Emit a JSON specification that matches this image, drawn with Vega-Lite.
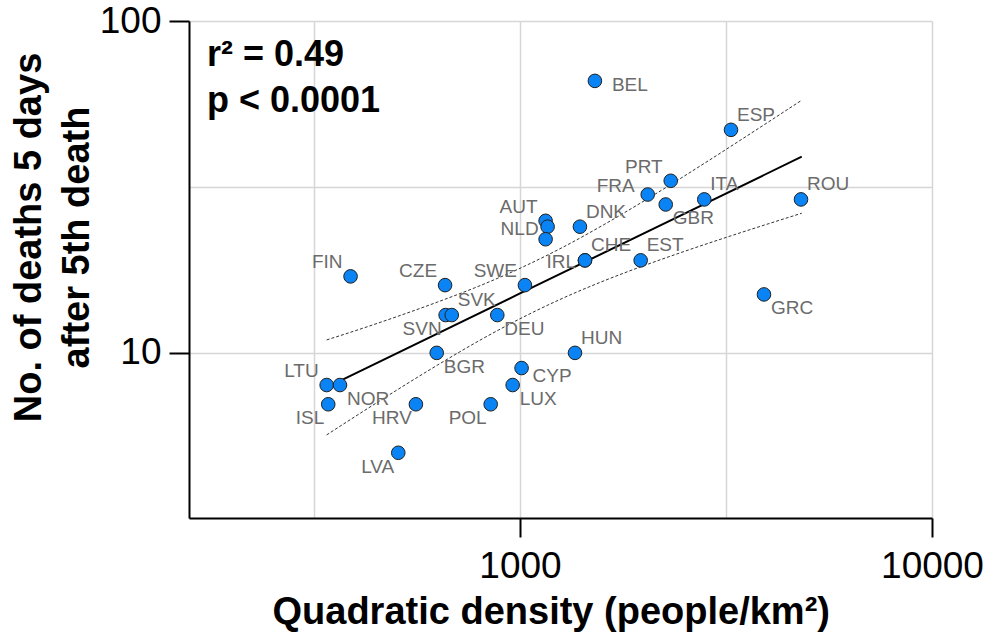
{
  "$schema": "https://vega.github.io/schema/vega-lite/v6.json",
  "width": 743,
  "height": 497,
  "autosize": {"type": "none"},
  "padding": {"left": 189, "top": 21, "right": 60, "bottom": 116},
  "background": "white",
  "config": {"view": {"stroke": null}, "font": "Liberation Sans"},
  "title": {
    "text": ["r² = 0.49", "p < 0.0001"],
    "anchor": "start",
    "frame": "group",
    "orient": "top",
    "offset": 0,
    "font": "Liberation Sans",
    "fontSize": 36,
    "fontWeight": "bold",
    "color": "#000000",
    "lineHeight": 46,
    "dx": 18,
    "dy": 118
  },
  "datasets": {
    "countries": [
      {"c": "BEL", "density": 1520, "deaths": 66, "pos": "r"},
      {"c": "ESP", "density": 3252, "deaths": 47, "pos": "ur"},
      {"c": "PRT", "density": 2322, "deaths": 33, "pos": "ul"},
      {"c": "FRA", "density": 2042, "deaths": 30, "pos": "ul2"},
      {"c": "GBR", "density": 2258, "deaths": 28, "pos": "dr"},
      {"c": "ITA", "density": 2801, "deaths": 29, "pos": "ur"},
      {"c": "ROU", "density": 4809, "deaths": 29, "pos": "ur"},
      {"c": "EST", "density": 1963, "deaths": 19, "pos": "ur"},
      {"c": "GRC", "density": 3910, "deaths": 15, "pos": "dr"},
      {"c": "AUT", "density": 1154, "deaths": 25, "pos": "ul"},
      {"c": "NLD", "density": 1167, "deaths": 24, "pos": "l"},
      {"c": "", "density": 1154, "deaths": 22, "pos": "none"},
      {"c": "DNK", "density": 1398, "deaths": 24, "pos": "ur"},
      {"c": "IRL", "density": 1438, "deaths": 19, "pos": "l"},
      {"c": "CHE", "density": 1438, "deaths": 19, "pos": "ur"},
      {"c": "SWE", "density": 1028, "deaths": 16, "pos": "ul"},
      {"c": "DEU", "density": 881, "deaths": 13, "pos": "dr"},
      {"c": "FIN", "density": 388, "deaths": 17, "pos": "ul"},
      {"c": "CZE", "density": 658, "deaths": 16, "pos": "ul"},
      {"c": "SVN", "density": 660, "deaths": 13, "pos": "dl"},
      {"c": "SVK", "density": 683, "deaths": 13, "pos": "ur"},
      {"c": "BGR", "density": 628, "deaths": 10, "pos": "dr"},
      {"c": "HUN", "density": 1360, "deaths": 10, "pos": "ur"},
      {"c": "CYP", "density": 1009, "deaths": 9, "pos": "rd"},
      {"c": "LUX", "density": 960, "deaths": 8, "pos": "dr"},
      {"c": "POL", "density": 849, "deaths": 7, "pos": "dl"},
      {"c": "LTU", "density": 339.5, "deaths": 8, "pos": "ul"},
      {"c": "NOR", "density": 365.7, "deaths": 8, "pos": "dr"},
      {"c": "ISL", "density": 342.5, "deaths": 7, "pos": "dl"},
      {"c": "HRV", "density": 559, "deaths": 7, "pos": "dl"},
      {"c": "LVA", "density": 506.6, "deaths": 5, "pos": "dl"}
    ],
    "fit": [
      {"density": 339.5, "deaths": 7.87},
      {"density": 1000, "deaths": 15.1},
      {"density": 4829, "deaths": 39.0}
    ],
    "band": [
      {"density": 339.5, "deaths": 10.94, "bound": "upper"},
      {"density": 400, "deaths": 11.68, "bound": "upper"},
      {"density": 500, "deaths": 12.83, "bound": "upper"},
      {"density": 630, "deaths": 14.22, "bound": "upper"},
      {"density": 800, "deaths": 15.94, "bound": "upper"},
      {"density": 1000, "deaths": 17.98, "bound": "upper"},
      {"density": 1250, "deaths": 20.59, "bound": "upper"},
      {"density": 1600, "deaths": 24.36, "bound": "upper"},
      {"density": 2000, "deaths": 28.69, "bound": "upper"},
      {"density": 2500, "deaths": 34.05, "bound": "upper"},
      {"density": 3200, "deaths": 41.4, "bound": "upper"},
      {"density": 4000, "deaths": 49.55, "bound": "upper"},
      {"density": 4829, "deaths": 57.73, "bound": "upper"},
      {"density": 339.5, "deaths": 5.66, "bound": "lower"},
      {"density": 400, "deaths": 6.455, "bound": "lower"},
      {"density": 500, "deaths": 7.695, "bound": "lower"},
      {"density": 630, "deaths": 9.18, "bound": "lower"},
      {"density": 800, "deaths": 10.92, "bound": "lower"},
      {"density": 1000, "deaths": 12.67, "bound": "lower"},
      {"density": 1250, "deaths": 14.48, "bound": "lower"},
      {"density": 1600, "deaths": 16.49, "bound": "lower"},
      {"density": 2000, "deaths": 18.32, "bound": "lower"},
      {"density": 2500, "deaths": 20.2, "bound": "lower"},
      {"density": 3200, "deaths": 22.38, "bound": "lower"},
      {"density": 4000, "deaths": 24.47, "bound": "lower"},
      {"density": 4829, "deaths": 26.35, "bound": "lower"}
    ]
  },
  "encoding": {
    "x": {
      "field": "density",
      "type": "quantitative",
      "scale": {"type": "log", "domain": [157.3, 10000], "nice": false},
      "axis": {
        "title": "Quadratic density (people/km²)",
        "values": [316.227766, 1000, 3162.27766, 10000],
        "format": "d",
        "labelExpr": "datum.value == 1000 || datum.value == 10000 ? datum.label : ''",
        "grid": true,
        "gridColor": "#d6d6d6",
        "gridWidth": 1.5,
        "domainColor": "#000000",
        "domainWidth": 2,
        "tickColor": "#000000",
        "tickWidth": 2,
        "tickSize": 19,
        "tickOpacity": {"condition": {"test": "datum.value == 1000 || datum.value == 10000", "value": 1}, "value": 0},
        "labelFont": "Liberation Sans",
        "labelFontSize": 37,
        "labelColor": "#000000",
        "labelPadding": 11,
        "labelFlush": false,
        "labelOverlap": false,
        "titleFont": "Liberation Sans",
        "titleFontSize": 38,
        "titleFontWeight": "bold",
        "titleColor": "#000000",
        "titleAlign": "left",
        "titleBaseline": "alphabetic",
        "titleX": 83,
        "titleY": 105
      }
    },
    "y": {
      "field": "deaths",
      "type": "quantitative",
      "scale": {"type": "log", "domain": [3.18, 100], "nice": false},
      "axis": {
        "title": ["No. of deaths 5 days", "after 5th death"],
        "values": [10, 31.6227766, 100],
        "format": "d",
        "labelExpr": "datum.value == 10 || datum.value == 100 ? datum.label : ''",
        "grid": true,
        "gridColor": "#d6d6d6",
        "gridWidth": 1.5,
        "domainColor": "#000000",
        "domainWidth": 2,
        "tickColor": "#000000",
        "tickWidth": 2,
        "tickSize": 20,
        "tickOpacity": {"condition": {"test": "datum.value == 10 || datum.value == 100", "value": 1}, "value": 0},
        "labelFont": "Liberation Sans",
        "labelFontSize": 37,
        "labelColor": "#000000",
        "labelPadding": 8,
        "labelOverlap": false,
        "labelFlush": false,
        "titleFont": "Liberation Sans",
        "titleFontSize": 38,
        "titleFontWeight": "bold",
        "titleColor": "#000000",
        "titleAlign": "center",
        "titleBaseline": "alphabetic",
        "titleLineHeight": 48,
        "titleX": -149,
        "titleY": 216
      }
    }
  },
  "layer": [
    {
      "data": {"name": "band"},
      "mark": {"type": "line", "color": "#333333", "strokeWidth": 1, "strokeDash": [3, 2], "interpolate": "monotone"},
      "encoding": {"detail": {"field": "bound"}}
    },
    {
      "data": {"name": "fit"},
      "mark": {"type": "line", "color": "#000000", "strokeWidth": 2}
    },
    {
      "data": {"name": "countries"},
      "mark": {"type": "circle", "size": 185, "color": "#0a84f5", "opacity": 1, "stroke": "#202020", "strokeWidth": 1}
    },
    {
      "data": {"name": "countries"},
      "transform": [{"filter": "datum.pos == 'ur'"}],
      "mark": {"type": "text", "align": "left", "baseline": "middle", "dx": 6, "dy": -15, "fontSize": 19, "font": "Liberation Sans", "color": "#6b6b6b"},
      "encoding": {"text": {"field": "c"}}
    },
    {
      "data": {"name": "countries"},
      "transform": [{"filter": "datum.pos == 'ul'"}],
      "mark": {"type": "text", "align": "right", "baseline": "middle", "dx": -8, "dy": -14, "fontSize": 19, "font": "Liberation Sans", "color": "#6b6b6b"},
      "encoding": {"text": {"field": "c"}}
    },
    {
      "data": {"name": "countries"},
      "transform": [{"filter": "datum.pos == 'ul2'"}],
      "mark": {"type": "text", "align": "right", "baseline": "middle", "dx": -13, "dy": -9, "fontSize": 19, "font": "Liberation Sans", "color": "#6b6b6b"},
      "encoding": {"text": {"field": "c"}}
    },
    {
      "data": {"name": "countries"},
      "transform": [{"filter": "datum.pos == 'dr'"}],
      "mark": {"type": "text", "align": "left", "baseline": "middle", "dx": 7, "dy": 14, "fontSize": 19, "font": "Liberation Sans", "color": "#6b6b6b"},
      "encoding": {"text": {"field": "c"}}
    },
    {
      "data": {"name": "countries"},
      "transform": [{"filter": "datum.pos == 'rd'"}],
      "mark": {"type": "text", "align": "left", "baseline": "middle", "dx": 11, "dy": 8, "fontSize": 19, "font": "Liberation Sans", "color": "#6b6b6b"},
      "encoding": {"text": {"field": "c"}}
    },
    {
      "data": {"name": "countries"},
      "transform": [{"filter": "datum.pos == 'dl'"}],
      "mark": {"type": "text", "align": "right", "baseline": "middle", "dx": -4, "dy": 14, "fontSize": 19, "font": "Liberation Sans", "color": "#6b6b6b"},
      "encoding": {"text": {"field": "c"}}
    },
    {
      "data": {"name": "countries"},
      "transform": [{"filter": "datum.pos == 'l'"}],
      "mark": {"type": "text", "align": "right", "baseline": "middle", "dx": -9, "dy": 2, "fontSize": 19, "font": "Liberation Sans", "color": "#6b6b6b"},
      "encoding": {"text": {"field": "c"}}
    },
    {
      "data": {"name": "countries"},
      "transform": [{"filter": "datum.pos == 'r'"}],
      "mark": {"type": "text", "align": "left", "baseline": "middle", "dx": 17, "dy": 4, "fontSize": 19, "font": "Liberation Sans", "color": "#6b6b6b"},
      "encoding": {"text": {"field": "c"}}
    }
  ]
}
